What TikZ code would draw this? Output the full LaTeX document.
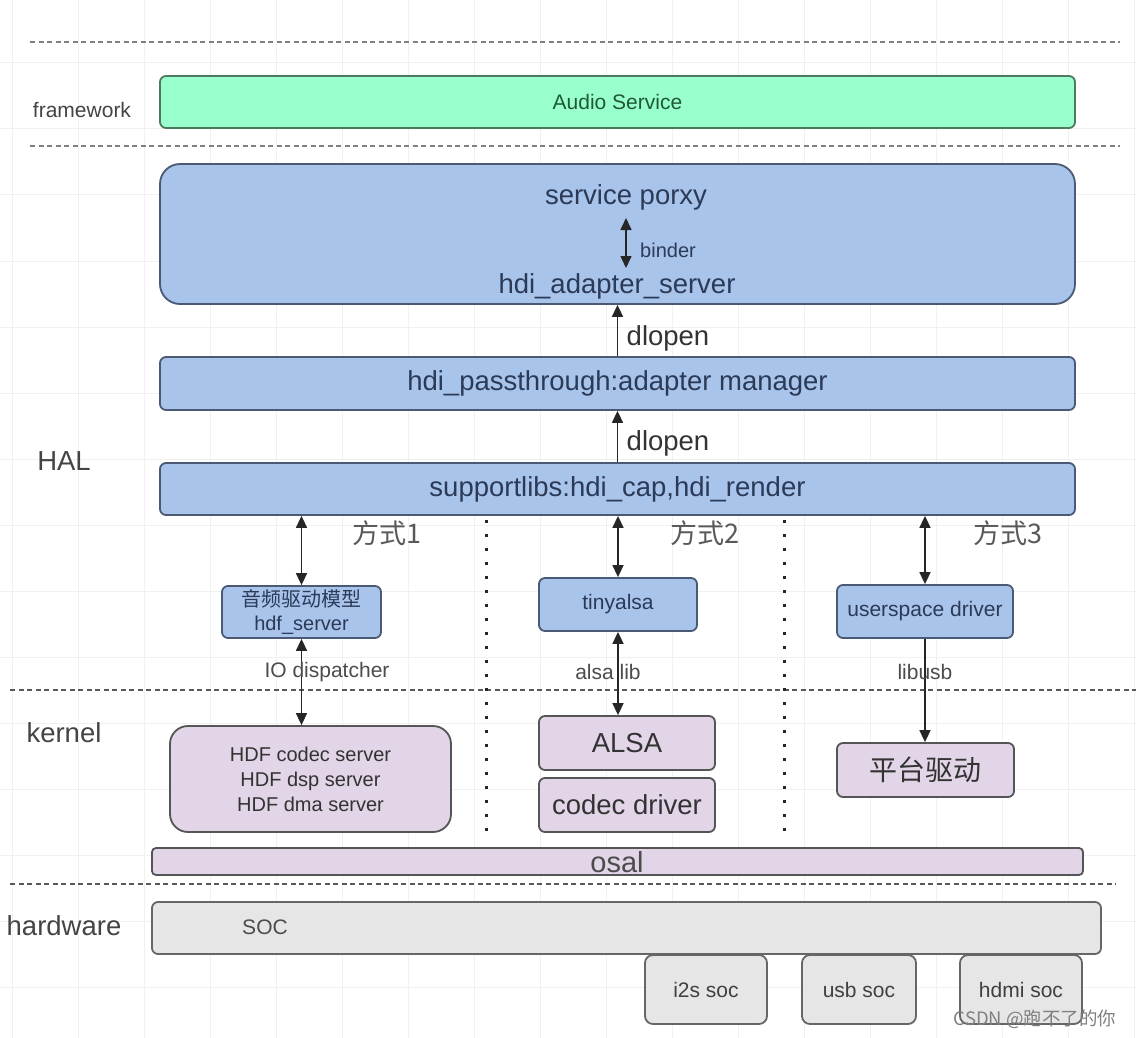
\documentclass[tikz,border=0pt]{standalone}
\usepackage{fontspec}
\setmainfont{Liberation Sans}
\newfontfamily\cjk{Noto Sans CJK SC}
\usetikzlibrary{arrows.meta}
\definecolor{mintfill}{HTML}{99FFCC}
\definecolor{mintdraw}{HTML}{4D7A5E}
\definecolor{minttext}{HTML}{1F5A33}
\definecolor{bluefill}{HTML}{A9C4EB}
\definecolor{bluedraw}{HTML}{4A5A75}
\definecolor{bluetext}{HTML}{2B3A57}
\definecolor{lavfill}{HTML}{E1D5E7}
\definecolor{lavdraw}{HTML}{555555}
\definecolor{grayfill}{HTML}{E6E6E6}
\definecolor{graydraw}{HTML}{666666}
\definecolor{labeltext}{HTML}{444444}
\definecolor{gridc}{HTML}{F1F1F1}
\begin{document}
\begin{tikzpicture}[x=1pt,y=-1pt,
  bigf/.style={font=\fontsize{27.5}{32}\selectfont},
  smallf/.style={font=\fontsize{21}{24}\selectfont},
  boxbase/.style={line width=1.8pt, inner sep=0pt, align=center},
  mintbox/.style={boxbase, draw=mintdraw, fill=mintfill, text=minttext},
  bluebox/.style={boxbase, draw=bluedraw, fill=bluefill, text=bluetext},
  lavbox/.style={boxbase, draw=lavdraw, fill=lavfill, text=black!80},
  graybox/.style={boxbase, draw=graydraw, fill=grayfill, text=black!75},
  layerline/.style={draw=black!50, line width=2.2pt, dash pattern=on 5pt off 3.5pt},
  dotline/.style={draw=black!85, line width=3pt, dash pattern=on 3pt off 11pt},
  conn/.style={draw=black!85, line width=1.6pt},
  dbl/.style={conn, {Triangle[length=12pt,width=11pt]}-{Triangle[length=12pt,width=11pt]}},
  sgl/.style={conn, -{Triangle[length=12pt,width=11pt]}},
  lbl/.style={text=labeltext, inner sep=0pt}
]
\useasboundingbox (0,0) rectangle (1136,1038);
\fill[white] (0,0) rectangle (1136,1038);
% faint background grid
\foreach \x in {12,78,...,1136} \draw[gridc, line width=1pt] (\x,0) -- (\x,1038);
\foreach \y in {63,129,...,1038} \draw[gridc, line width=1pt] (0,\y) -- (1136,\y);

% layer separators
\draw[layerline] (30,42) -- (1120,42);
\draw[layerline] (30,146) -- (1120,146);
\draw[layerline, draw=black!65] (10,690) -- (1136,690);
\draw[layerline, draw=black!65] (10,884) -- (1116,884);

% dotted column separators
\draw[dotline] (486,520) -- (486,832);
\draw[dotline] (784,520) -- (784,832);

% layer labels
\node[lbl, font=\fontsize{21}{24}\selectfont] (lfw) at (82,110) {framework};
\node[lbl, bigf] (lhal) at (64,461) {HAL};
\node[lbl, bigf] (lker) at (64,733) {kernel};
\node[lbl, bigf] (lhw) at (64,926) {hardware};

% framework
\node[mintbox, rounded corners=6pt, minimum width=915pt, minimum height=52pt, font=\fontsize{21}{24}\selectfont] (audio) at (617.5,102) {Audio Service};

% HAL
\node[bluebox, rounded corners=20pt, minimum width=915pt, minimum height=140pt] (srv) at (617.5,234) {};
\node[bigf, text=bluetext, inner sep=0pt] (sp) at (626,197) {service porxy};
\node[bigf, text=bluetext, inner sep=0pt] (has) at (617,286) {hdi\_adapter\_server};
\coordinate (b1) at (626,218);
\coordinate (b2) at (626,268);
\draw[dbl] (b1) -- (b2);
\node[lbl, text=bluetext, font=\fontsize{20}{24}\selectfont] (binderlbl) at (668,250) {binder};

\node[bluebox, bigf, rounded corners=6pt, minimum width=915pt, minimum height=53pt] (pass) at (617.5,383.5) {hdi\_passthrough:adapter manager};
\node[bluebox, bigf, rounded corners=6pt, minimum width=915pt, minimum height=52pt] (sup) at (617.5,489) {supportlibs:hdi\_cap,hdi\_render};

\draw[sgl] (pass.north) -- (srv.south);
\node[lbl, bigf, text=black!80] (dl1) at (668,338) {dlopen};
\draw[sgl] (sup.north) -- (pass.south);
\node[lbl, bigf, text=black!80] (dl2) at (668,443) {dlopen};

% way labels
\node[lbl, font=\cjk\fontsize{27}{32}\selectfont, text=black!65] (w1) at (387,533) {方式1};
\node[lbl, font=\cjk\fontsize{27}{32}\selectfont, text=black!65] (w2) at (705,533) {方式2};
\node[lbl, font=\cjk\fontsize{27}{32}\selectfont, text=black!65] (w3) at (1008,533) {方式3};

% user-space modules
\node[bluebox, rounded corners=6pt, minimum width=159pt, minimum height=52pt, font=\fontsize{20}{24}\selectfont] (hdf) at (301.5,612) {{\cjk 音频驱动模型}\\hdf\_server};
\node[bluebox, rounded corners=6pt, minimum width=158pt, minimum height=53pt, font=\fontsize{21}{24}\selectfont] (tiny) at (618,604.5) {tinyalsa};
\node[bluebox, rounded corners=6pt, minimum width=176pt, minimum height=53pt, font=\fontsize{21}{24}\selectfont] (user) at (925,611.5) {userspace driver};

% kernel modules
\node[lavbox, rounded corners=18pt, minimum width=281pt, minimum height=106pt, font=\fontsize{20}{25}\selectfont] (hdfk) at (310.5,779) {HDF codec server\\HDF dsp server\\HDF dma server};
\node[lavbox, bigf, rounded corners=6pt, minimum width=176pt, minimum height=54pt] (alsa) at (627,743) {ALSA};
\node[lavbox, bigf, rounded corners=6pt, minimum width=176pt, minimum height=54pt] (codec) at (627,805) {codec driver};
\node[lavbox, rounded corners=6pt, minimum width=177pt, minimum height=54pt, font=\cjk\fontsize{28}{32}\selectfont] (plat) at (925.5,770) {平台驱动};
\node[lavbox, rounded corners=4pt, minimum width=931pt, minimum height=27pt] (osal) at (617.5,861.5) {};
\node[lbl, font=\fontsize{29}{32}\selectfont, text=black!70] (osaltxt) at (617,862) {osal};

% hardware
\node[graybox, rounded corners=6pt, minimum width=949pt, minimum height=52pt] (soc) at (626.5,928) {};
\node[lbl, font=\fontsize{21}{24}\selectfont, text=black!70] (soctxt) at (265,927) {SOC};
\node[graybox, rounded corners=8pt, minimum width=122pt, minimum height=69pt, font=\fontsize{21}{24}\selectfont] (i2s) at (706,989.5) {i2s soc};
\node[graybox, rounded corners=8pt, minimum width=114pt, minimum height=69pt, font=\fontsize{21}{24}\selectfont] (usb) at (859,989.5) {usb soc};
\node[graybox, rounded corners=8pt, minimum width=122pt, minimum height=69pt, font=\fontsize{21}{24}\selectfont] (hdmi) at (1021,989.5) {hdmi soc};

% connectors
\draw[dbl] (sup.south -| hdf.north) -- (hdf.north);
\draw[dbl] (hdf.south) -- (hdf.south |- hdfk.north);
\node[lbl, font=\fontsize{21}{24}\selectfont, text=black!70] (iod) at (327,672) {IO dispatcher};

\draw[dbl] (sup.south -| tiny.north) -- (tiny.north);
\draw[dbl] (tiny.south) -- (tiny.south |- alsa.north);
\node[lbl, font=\fontsize{21}{24}\selectfont, text=black!70] (alib) at (608,672) {alsa lib};

\draw[dbl] (sup.south -| user.north) -- (user.north);
\draw[sgl] (user.south) -- (user.south |- plat.north);
\node[lbl, font=\fontsize{21}{24}\selectfont, text=black!70] (lusb) at (925,672) {libusb};

% watermark
\node[lbl, font=\cjk\fontsize{18.5}{20}\selectfont, text=black!50] (wm) at (1035,1019) {CSDN @跑不了的你};
\end{tikzpicture}
\end{document}
